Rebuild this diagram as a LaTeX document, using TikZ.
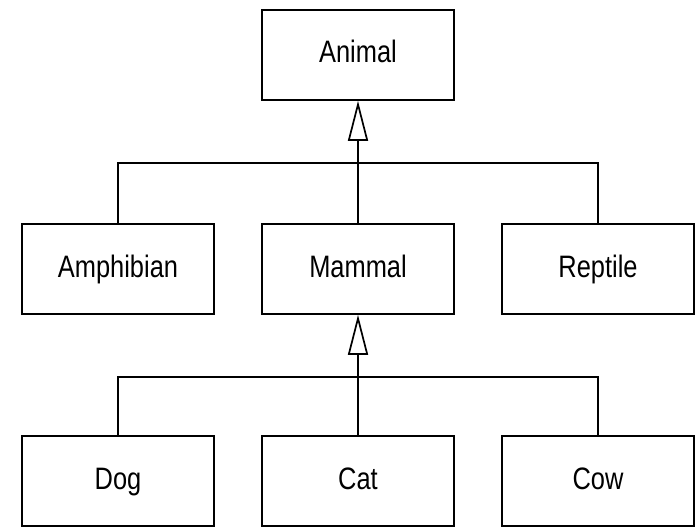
\documentclass[tikz,border=0pt]{standalone}
\usepackage{fontspec}
\setmainfont{Liberation Sans}[FakeStretch=0.82]
\usetikzlibrary{arrows.meta,positioning}

\begin{document}
\begin{tikzpicture}[x=1pt,y=-1pt,line width=1.7pt,>={Triangle[open,length=40pt,width=20pt]},
    cls/.style={draw,minimum width=192pt,minimum height=90pt,inner sep=0pt,text height=22pt,text depth=6pt,font=\fontsize{31}{31}\selectfont}]
    \useasboundingbox[fill=white] (0,0) rectangle (700,527);
    \node[cls] (animal) at (358,55) {Animal};
    \node[cls] (amphibian) at (118,269) {Amphibian};
    \node[cls] (mammal) at (358,269) {Mammal};
    \node[cls] (reptile) at (598,269) {Reptile};
    \node[cls] (dog) at (118,481) {Dog};
    \node[cls] (cat) at (358,481) {Cat};
    \node[cls] (cow) at (598,481) {Cow};
    \coordinate[below=62pt of animal] (j1);
    \coordinate[below=62pt of mammal] (j2);
    \draw (amphibian.north) |- (j1) -| (reptile.north);
    \draw (mammal.north) -- (j1);
    \draw[->] (j1) -- (animal.south);
    \draw (dog.north) |- (j2) -| (cow.north);
    \draw (cat.north) -- (j2);
    \draw[->] (j2) -- (mammal.south);
\end{tikzpicture}
\end{document}
